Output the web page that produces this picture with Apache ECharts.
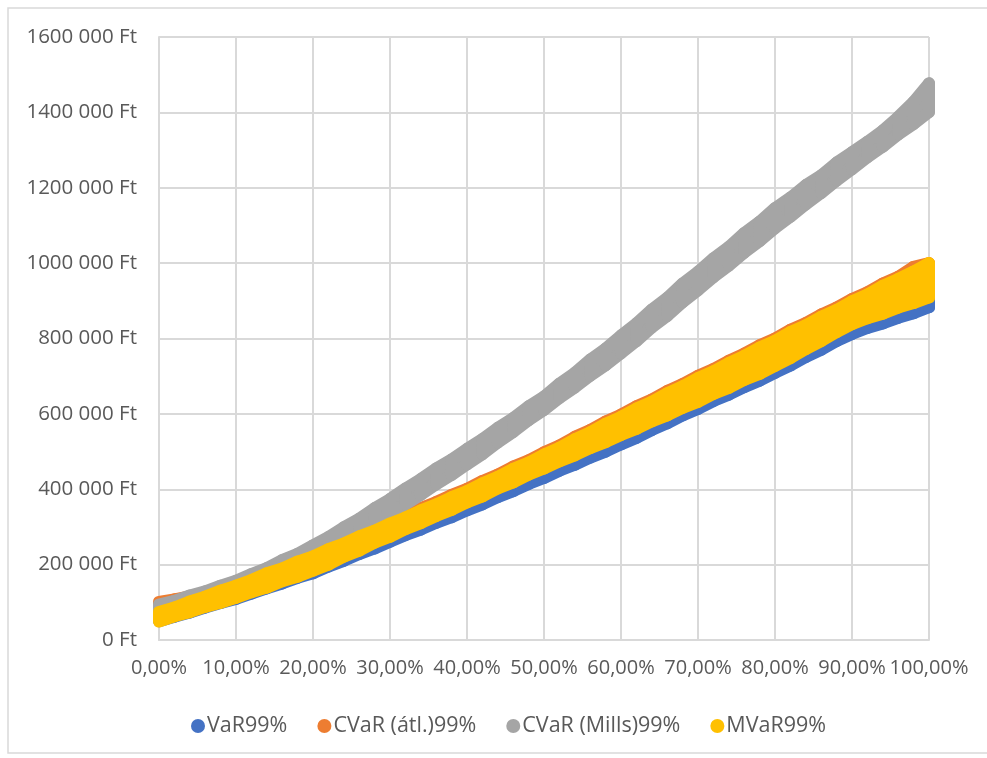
<!DOCTYPE html>
<html>
<head>
<meta charset="utf-8">
<script src="https://cdn.jsdelivr.net/npm/echarts@6/dist/echarts.min.js"></script>
<style>
html,body{margin:0;padding:0;background:#fff;}
#chart{width:987px;height:758px;}
</style>
</head>
<body>
<div id="chart"></div>
<script>
// x positions (percent)
const X = [0,2,4,6,8,10,12,14,16,18,20,22,24,26,28,30,32,34,36,38,40,42,44,46,48,50,52,54,56,58,60,62,64,66,68,70,72,74,76,78,80,82,84,86,88,90,92,94,96,98,100];

// VaR99% band (lower / upper edge of the point cloud), Ft
const varLo = [50000,62000,73000,86000,98000,109000,123000,137000,150000,165000,177000,195000,210000,228000,243000,261000,278000,293000,311000,326000,344000,360000,379000,395000,414000,430000,449000,465000,484000,500000,519000,536000,557000,575000,596000,613000,634000,651000,671000,688000,709000,728000,751000,770000,793000,812000,828000,840000,855000,867000,883000];
const varHi = [70000,83000,95000,108000,121000,134000,149000,164000,179000,194000,209000,226000,243000,260000,277000,294000,311000,328000,345000,362000,379000,397000,415000,433000,451000,469000,487000,505000,523000,541000,559000,578000,597000,616000,635000,654000,673000,692000,711000,730000,749000,770000,791000,812000,833000,854000,869000,884000,899000,914000,929000];

// CVaR (átl.)99% band
const cvarAtlLo = [70000,82000,95000,107000,120000,132000,147000,160000,175000,189000,204000,221000,241000,258000,278000,295000,314000,331000,349000,366000,385000,402000,422000,439000,459000,476000,495000,511000,530000,546000,565000,582000,601000,618000,637000,654000,675000,692000,712000,729000,750000,771000,794000,815000,838000,860000,876000,889000,904000,917000,932000];
const cvarAtlHi = [101000,108000,116000,126000,137000,150000,165000,183000,196000,214000,228000,247000,262000,281000,297000,315000,331000,350000,366000,385000,401000,422000,439000,460000,477000,498000,516000,539000,557000,580000,598000,620000,638000,661000,679000,701000,719000,741000,760000,782000,800000,823000,841000,864000,882000,905000,923000,946000,964000,990000,1000000];

// CVaR (Mills)99% band
const cvarMillsLo = [80000,92000,104000,116000,128000,140000,158000,176000,194000,212000,230000,250000,271000,292000,312000,333000,360000,385000,413000,438000,466000,493000,524000,552000,583000,610000,642000,670000,701000,729000,761000,793000,829000,860000,896000,928000,963000,993000,1028000,1058000,1093000,1123000,1156000,1186000,1219000,1249000,1281000,1309000,1341000,1369000,1401000];
const cvarMillsHi = [94000,104000,118000,129000,144000,157000,175000,191000,212000,229000,251000,273000,299000,322000,350000,374000,402000,427000,455000,479000,507000,533000,563000,589000,620000,646000,680000,709000,744000,773000,808000,840000,877000,908000,946000,977000,1013000,1043000,1080000,1110000,1146000,1174000,1207000,1233000,1267000,1294000,1322000,1352000,1388000,1428000,1477000];

// MVaR99% band
const mvarLo = [49000,63000,74000,88000,99000,112000,127000,139000,156000,168000,184000,200000,221000,237000,258000,274000,294000,310000,329000,345000,365000,381000,402000,418000,439000,455000,474000,490000,509000,525000,544000,560000,580000,596000,616000,632000,653000,669000,690000,706000,727000,748000,772000,793000,817000,838000,854000,866000,882000,894000,909000];
const mvarHi = [74000,86000,102000,115000,131000,144000,159000,177000,190000,208000,222000,241000,256000,275000,290000,309000,325000,344000,360000,379000,395000,416000,433000,454000,471000,492000,510000,533000,551000,574000,592000,614000,632000,655000,673000,695000,713000,735000,754000,776000,794000,817000,835000,858000,876000,899000,917000,940000,958000,978000,1000000];

const seriesNames = ['VaR99%','CVaR (átl.)99%','CVaR (Mills)99%','MVaR99%'];
const seriesColors = ['#4472C4','#ED7D31','#A5A5A5','#FFC000'];

const MARK = 12; // marker diameter in px

function band(name, color, lo, hi) {
  return {
    name: name,
    type: 'custom',
    coordinateSystem: 'cartesian2d',
    itemStyle: { color: color },
    encode: { x: 0, y: [1, 2] },
    data: X.map((x, i) => [x, lo[i], hi[i]]),
    animation: false,
    silent: true,
    renderItem: function (params, api) {
      const i = params.dataIndex;
      const pl = api.coord([api.value(0), api.value(1)]);
      const ph = api.coord([api.value(0), api.value(2)]);
      if (i < X.length - 1) {
        const nl = api.coord([X[i + 1], lo[i + 1]]);
        const nh = api.coord([X[i + 1], hi[i + 1]]);
        return {
          type: 'polygon',
          shape: { points: [pl, ph, nh, nl] },
          style: { fill: color, stroke: color, lineWidth: MARK, lineJoin: 'round' }
        };
      }
      return {
        type: 'line',
        shape: { x1: pl[0], y1: pl[1], x2: ph[0], y2: ph[1] },
        style: { stroke: color, lineWidth: MARK, lineCap: 'round' }
      };
    }
  };
}

const chart = echarts.init(document.getElementById('chart'), null, { renderer: 'canvas' });
const FONT = '"Open Sans", sans-serif';
chart.setOption({
  animation: false,
  backgroundColor: '#ffffff',
  color: seriesColors,
  textStyle: { fontFamily: FONT },
  graphic: [{
    type: 'rect',
    shape: { x: 8, y: 8, width: 990, height: 745 },
    style: { fill: 'none', stroke: '#d9d9d9', lineWidth: 1.5 },
    silent: true,
    z: -10
  }],
  grid: { left: 159, right: 58, top: 37, bottom: 118 },
  xAxis: {
    type: 'value',
    min: 0, max: 100, interval: 10,
    axisLine: { show: true, lineStyle: { color: '#d9d9d9', width: 2 } },
    axisTick: { show: false },
    splitLine: { show: true, lineStyle: { color: '#d9d9d9', width: 2 } },
    axisLabel: {
      color: '#595959', fontSize: 20, fontFamily: FONT, margin: 18,
      formatter: v => v.toFixed(2).replace('.', ',') + '%'
    }
  },
  yAxis: {
    type: 'value',
    min: 0, max: 1600000, interval: 200000,
    axisLine: { show: true, lineStyle: { color: '#d9d9d9', width: 2 } },
    axisTick: { show: false },
    splitLine: { show: true, lineStyle: { color: '#d9d9d9', width: 2 } },
    axisLabel: {
      color: '#595959', fontSize: 20.5, fontFamily: FONT, margin: 22,
      formatter: v => v === 0 ? '0 Ft' : (v / 1000) + ' 000 Ft'
    }
  },
  legend: {
    data: seriesNames,
    left: 186, top: 710,
    icon: 'circle',
    itemWidth: 14, itemHeight: 14,
    itemGap: 30,
    textStyle: { color: '#595959', fontSize: 21.5, fontFamily: FONT, padding: [0, 0, 0, -3] }
  },
  series: [
    band(seriesNames[0], seriesColors[0], varLo, varHi),
    band(seriesNames[1], seriesColors[1], cvarAtlLo, cvarAtlHi),
    band(seriesNames[2], seriesColors[2], cvarMillsLo, cvarMillsHi),
    band(seriesNames[3], seriesColors[3], mvarLo, mvarHi)
  ]
});
</script>
</body>
</html>
